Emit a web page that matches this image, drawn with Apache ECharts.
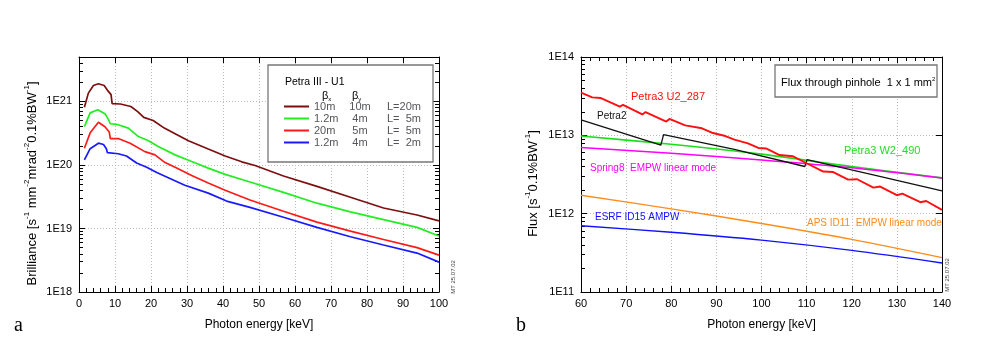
<!DOCTYPE html>
<html>
<head>
<meta charset="utf-8">
<script src="https://cdn.jsdelivr.net/npm/echarts@6/dist/echarts.min.js"></script>
<style>
  html, body { margin: 0; padding: 0; background: #fff; }
  #chart { width: 1000px; height: 354px; }
</style>
</head>
<body>
<div id="chart"></div>
<script>
// ---- panel a: Petra III U1 brilliance ----
const brownE = [1.5, 2.6, 4.0, 5.4, 7.0, 8.1, 8.9, 9.2, 11.5, 14.4, 16.3, 18.0, 20.6, 23.7, 26.7, 30.4, 35.9, 40.6, 45.2, 48.9, 56.8, 66.1, 75.4, 84.6, 93.9, 100]
const brownV = [8.1e20, 1.35e21, 1.78e21, 1.9e21, 1.78e21, 1.45e21, 1.28e21, 9.2e20, 9.1e20, 8.3e20, 6.9e20, 5.6e20, 5.0e20, 3.8e20, 3.1e20, 2.4e20, 1.78e20, 1.38e20, 1.12e20, 9.8e19, 6.7e19, 4.6e19, 3.1e19, 2.1e19, 1.63e19, 1.32e19]

const greenE = [1.5, 3.1, 5.2, 7.2, 8.1, 8.7, 10.9, 13.7, 16.5, 19.3, 22.0, 26.7, 31.3, 35.9, 40.6, 47.5, 56.8, 66.1, 75.4, 84.6, 93.9, 100]
const greenV = [4.0e20, 6.6e20, 7.4e20, 6.4e20, 5.3e20, 4.45e20, 4.3e20, 3.8e20, 2.8e20, 2.4e20, 1.95e20, 1.44e20, 1.13e20, 8.9e19, 7.1e19, 5.4e19, 3.7e19, 2.5e19, 1.82e19, 1.38e19, 1.04e19, 7.6e18]

const redE = [1.5, 3.1, 5.4, 7.2, 8.4, 8.7, 10.9, 14.2, 18.3, 21.1, 23.9, 26.7, 31.3, 35.9, 40.6, 47.5, 56.8, 66.1, 75.4, 84.6, 93.9, 100]
const redV = [1.83e20, 3.2e20, 4.7e20, 4.0e20, 3.3e20, 2.6e20, 2.6e20, 2.2e20, 1.62e20, 1.44e20, 1.09e20, 9.2e19, 6.8e19, 5.2e19, 4.0e19, 2.8e19, 1.87e19, 1.26e19, 9.1e18, 6.7e18, 5.0e18, 3.8e18]

const blueE = [1.5, 3.1, 5.4, 6.8, 7.6, 7.9, 10.9, 13.2, 16.0, 18.8, 21.6, 24.8, 29.4, 35.9, 41.0, 47.5, 56.8, 66.1, 75.4, 84.6, 93.9, 100]
const blueV = [1.2e20, 1.8e20, 2.2e20, 2.1e20, 1.8e20, 1.56e20, 1.5e20, 1.38e20, 1.07e20, 9.2e19, 7.6e19, 6.3e19, 4.8e19, 3.6e19, 2.7e19, 2.15e19, 1.5e19, 1.04e19, 7.4e18, 5.5e18, 4.1e18, 2.95e18]

const u1Names = ['U1 10m/10m L=20m', 'U1 1.2m/4m L=5m', 'U1 20m/5m L=5m', 'U1 1.2m/4m L=2m']
const u1BetaX = ['10m', '1.2m', '20m', '1.2m']
const u1BetaY = ['10m', '4m', '5m', '4m']
const u1Length = ['L=20m', 'L=  5m', 'L=  5m', 'L=  2m']

// ---- panel b: flux through pinhole ----
const u2E = [60, 62.5, 64.3, 68.6, 69.3, 73.6, 74.3, 78.9, 79.6, 83.1, 86.8, 89, 92, 94, 97, 99.3, 101, 104, 107, 110, 113.7, 115.9, 119.2, 121.2, 124.8, 126.3, 130, 131.2, 135.2, 136.5, 140]
const u2V = [3.5e13, 3.05e13, 3.0e13, 2.33e13, 2.45e13, 1.85e13, 1.98e13, 1.5e13, 1.62e13, 1.34e13, 1.23e13, 1.08e13, 9.8e12, 8.8e12, 7.9e12, 6.9e12, 6.8e12, 5.6e12, 5.4e12, 4.4e12, 3.45e12, 3.4e12, 2.72e12, 2.75e12, 2.15e12, 2.22e12, 1.72e12, 1.8e12, 1.4e12, 1.45e12, 1.12e12]

const petra2E = [60, 77.7, 78.3, 94, 109.6, 110.1, 125, 140]
const petra2V = [1.57e13, 7.5e12, 1.02e13, 6.6e12, 4.0e12, 4.9e12, 3.1e12, 1.95e12]

const smoothE = [60, 80, 100, 120, 140]
const w2V = [9.8e12, 7.7e12, 5.75e12, 4.0e12, 2.86e12]
const spring8V = [7.0e12, 5.9e12, 4.85e12, 3.85e12, 2.85e12]
const apsV = [1.72e12, 1.15e12, 7.5e11, 4.7e11, 2.75e11]
const esrfV = [7.0e11, 5.8e11, 4.6e11, 3.4e11, 2.35e11]

const FONT = 'Liberation Sans'

function pairs(xs, ys) {
  return xs.map((x, i) => [x, ys[i]])
}

function powLabel(v) {
  const e = Math.log10(v)
  const r = Math.round(e)
  return Math.abs(e - r) < 1e-6 ? '1E' + r : ''
}

// minor tick positions 2..9 x 10^n inside [min, max]
function minorLogTicks(min, max) {
  const out = []
  for (let e = Math.floor(Math.log10(min)); e <= Math.ceil(Math.log10(max)); e++) {
    for (let m = 2; m <= 9; m++) {
      const v = m * Math.pow(10, e)
      if (v > min && v < max) out.push(v)
    }
  }
  return out
}

function logAxis(grid, min, max, opts) {
  const { position, labels, split, minor } = opts
  return {
    type: 'log',
    logBase: 10,
    gridIndex: grid,
    position: position,
    min: min,
    max: max,
    axisLine: { show: !minor, lineStyle: { color: '#000', width: 1 } },
    axisTick: minor
      ? { show: true, inside: true, length: 4, customValues: minorLogTicks(min, max), lineStyle: { color: '#000' } }
      : { show: true, inside: true, length: 6, lineStyle: { color: '#000' } },
    axisLabel: {
      show: !!labels,
      formatter: powLabel,
      fontFamily: FONT,
      fontSize: 11,
      color: '#000',
      margin: 7,
    },
    splitLine: { show: !!split, lineStyle: { color: '#bbb', type: [1, 2], width: 1 } },
  }
}

function energyAxis(grid, min, max, opts) {
  const { top, minor } = opts
  return {
    type: 'value',
    gridIndex: grid,
    position: top ? 'top' : 'bottom',
    min: min,
    max: max,
    interval: 10,
    name: top ? '' : 'Photon energy [keV]',
    nameLocation: 'middle',
    nameGap: 27,
    nameTextStyle: { fontFamily: FONT, fontSize: 12, color: '#000' },
    axisLine: { lineStyle: { color: '#000', width: 1 } },
    axisTick: { inside: true, length: 6, lineStyle: { color: '#000' } },
    minorTick: { show: !!minor, splitNumber: 5, length: 4, lineStyle: { color: '#000' } },
    axisLabel: { show: !top, fontFamily: FONT, fontSize: 11, color: '#000', margin: 6 },
    splitLine: { show: !top, lineStyle: { color: '#bbb', type: [1, 2], width: 1 } },
  }
}

const supRich = {
  n: { fontFamily: FONT, fontSize: 13, color: '#000', lineHeight: 18 },
  s: { fontFamily: FONT, fontSize: 8, color: '#000', verticalAlign: 'top', lineHeight: 10 },
}

const yAxes = [
  Object.assign(logAxis(0, 1e18, 5e21, { position: 'left', labels: true, split: true }), {
    name: '{n|Brilliance [s}{s|-1}{n| mm}{s|-2}{n|mrad}{s|-2}{n|0.1%BW}{s|-1}{n|]}',
    nameLocation: 'middle',
    nameGap: 38,
    nameTextStyle: { padding: [0, 18, 0, 0], rich: supRich },
  }),
  logAxis(0, 1e18, 5e21, { position: 'left', minor: true }),
  logAxis(0, 1e18, 5e21, { position: 'right' }),
  logAxis(0, 1e18, 5e21, { position: 'right', minor: true }),
  Object.assign(logAxis(1, 1e11, 1e14, { position: 'left', labels: true, split: true }), {
    name: '{n|Flux [s}{s|-1}{n|0.1%BW}{s|-1}{n|]}',
    nameLocation: 'middle',
    nameGap: 39,
    nameTextStyle: { padding: [0, 18, 0, 0], rich: supRich },
  }),
  logAxis(1, 1e11, 1e14, { position: 'left', minor: true }),
  logAxis(1, 1e11, 1e14, { position: 'right' }),
]

const xAxes = [
  energyAxis(0, 0, 100, { minor: true }),
  energyAxis(0, 0, 100, { top: true }),
  energyAxis(1, 60, 140, { minor: true }),
  energyAxis(1, 60, 140, { top: true, minor: true }),
]

function line(name, data, color, xi, yi, width, smooth) {
  return {
    name: name,
    type: 'line',
    xAxisIndex: xi,
    yAxisIndex: yi,
    data: data,
    symbol: 'none',
    showSymbol: false,
    smooth: smooth || false,
    lineStyle: { color: color, width: width },
    itemStyle: { color: color },
    animation: false,
    z: 3,
  }
}

const series = [
  line(u1Names[0], pairs(brownE, brownV), '#7d0f0f', 0, 0, 1.7),
  line(u1Names[1], pairs(greenE, greenV), '#22ee22', 0, 0, 1.7),
  line(u1Names[2], pairs(redE, redV), '#ff1a1a', 0, 0, 1.7),
  line(u1Names[3], pairs(blueE, blueV), '#1a1aff', 0, 0, 1.7),
  line('Petra3 W2_490', pairs(smoothE, w2V), '#18e018', 2, 4, 1.7, 0.3),
  line('Spring8 EMPW linear mode', pairs(smoothE, spring8V), '#ff00ff', 2, 4, 1.4, 0.3),
  line('APS ID11 EMPW linear mode', pairs(smoothE, apsV), '#ff8c1a', 2, 4, 1.4, 0.3),
  line('ESRF ID15 AMPW', pairs(smoothE, esrfV), '#1010ff', 2, 4, 1.4, 0.3),
  line('Petra2', pairs(petra2E, petra2V), '#111', 2, 4, 1.3),
  line('Petra3 U2_287', pairs(u2E, u2V), '#ff1010', 2, 4, 1.9),
]

function label(text, x, y, color, size) {
  return {
    type: 'text',
    x: x,
    y: y,
    z: 20,
    style: { text: text, fill: color, fontFamily: FONT, fontSize: size || 11, verticalAlign: 'middle' },
  }
}

const graphics = [
  // legend box, panel a
  { type: 'rect', z: 5, shape: { x: 268, y: 65, width: 165, height: 97 }, style: { fill: '#fff', stroke: '#777', lineWidth: 1.3 } },
  label('Petra III - U1', 285, 82, '#000', 10.5),
  {
    type: 'text', x: 322, y: 96, z: 20,
    style: {
      text: '{b|β}{s|x}',
      verticalAlign: 'middle',
      rich: { b: { fontFamily: FONT, fontSize: 11, lineHeight: 12 }, s: { fontFamily: FONT, fontSize: 6, verticalAlign: 'bottom', lineHeight: 8 } },
    },
  },
  {
    type: 'text', x: 352, y: 96, z: 20,
    style: {
      text: '{b|β}{s|y}',
      verticalAlign: 'middle',
      rich: { b: { fontFamily: FONT, fontSize: 11, lineHeight: 12 }, s: { fontFamily: FONT, fontSize: 6, verticalAlign: 'bottom', lineHeight: 8 } },
    },
  },
  // title box, panel b
  { type: 'rect', z: 5, shape: { x: 775, y: 65, width: 162, height: 32 }, style: { fill: '#fff', stroke: '#777', lineWidth: 1.3 } },
  {
    type: 'text', x: 781, y: 83, z: 20,
    style: {
      text: '{n|Flux through pinhole  1 x 1 mm}{s|2}',
      verticalAlign: 'middle',
      rich: { n: { fontFamily: FONT, fontSize: 11, lineHeight: 14 }, s: { fontFamily: FONT, fontSize: 6, verticalAlign: 'top', lineHeight: 8 } },
    },
  },
  label('Petra3 U2_287', 631, 97, '#ff1010', 11),
  label('Petra2', 597, 116, '#111', 10),
  label('Petra3 W2_490', 844, 151, '#22dd22', 11),
  label('Spring8  EMPW linear mode', 590, 168, '#ff00ff', 10),
  label('ESRF ID15 AMPW', 595, 217, '#1010ff', 10),
  label('APS ID11  EMPW linear mode', 807, 223, '#ff8c1a', 10),
  // panel letters
  { type: 'text', x: 14, y: 326, z: 20, style: { text: 'a', fontFamily: 'Liberation Serif', fontSize: 20, fill: '#000', verticalAlign: 'middle' } },
  { type: 'text', x: 516, y: 326, z: 20, style: { text: 'b', fontFamily: 'Liberation Serif', fontSize: 20, fill: '#000', verticalAlign: 'middle' } },
  // drawing stamps
  { type: 'text', x: 453, y: 277, rotation: Math.PI / 2, z: 20, style: { text: 'MT 25.07.02', fontFamily: FONT, fontSize: 6, fill: '#444', align: 'center', verticalAlign: 'middle' } },
  { type: 'text', x: 947, y: 275, rotation: Math.PI / 2, z: 20, style: { text: 'MT 25.07.02', fontFamily: FONT, fontSize: 6, fill: '#444', align: 'center', verticalAlign: 'middle' } },
]

const chart = echarts.init(document.getElementById('chart'), null, { renderer: 'canvas' })
chart.setOption({
  animation: false,
  backgroundColor: '#fff',
  textStyle: { fontFamily: FONT },
  grid: [
    { left: 79, right: 561, top: 57, bottom: 62 },
    { left: 581, right: 58, top: 57, bottom: 62 },
  ],
  xAxis: xAxes,
  yAxis: yAxes,
  legend: {
    data: u1Names,
    orient: 'vertical',
    left: 284,
    top: 101,
    padding: 0,
    icon: 'rect',
    itemWidth: 25,
    itemHeight: 2,
    itemGap: 1,
    selectedMode: false,
    z: 10,
    formatter: function (name) {
      const i = u1Names.indexOf(name)
      return '{a|' + u1BetaX[i] + '}{b|' + u1BetaY[i] + '}{c|' + u1Length[i] + '}'
    },
    textStyle: {
      rich: {
        a: { fontFamily: FONT, fontSize: 11, width: 35, lineHeight: 12 },
        b: { fontFamily: FONT, fontSize: 11, width: 22, align: 'center', lineHeight: 12 },
        c: { fontFamily: FONT, fontSize: 11, padding: [0, 0, 0, 16], lineHeight: 12 },
      },
    },
  },
  graphic: graphics,
  series: series,
})
</script>
</body>
</html>
